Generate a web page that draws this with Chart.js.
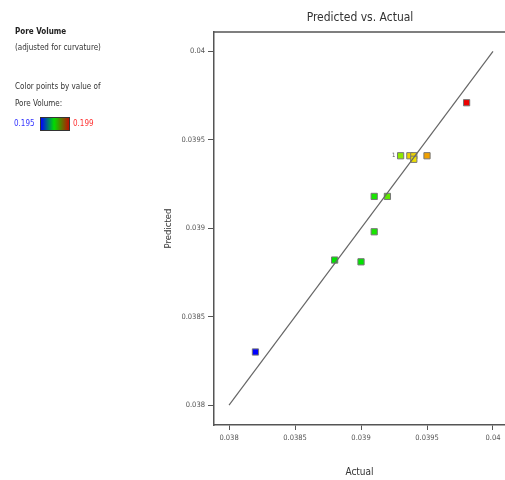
<!DOCTYPE html>
<html>
<head>
<meta charset="utf-8">
<script src="https://cdn.jsdelivr.net/npm/chart.js@4"></script>
<style>
  html, body { margin: 0; padding: 0; background: #fff; }
  #wrap { width: 505px; height: 480px; }
</style>
</head>
<body>
<div id="wrap"><canvas id="pvChart" width="505" height="480"></canvas></div>
<script>
// design points: actual vs predicted, coloured by pore volume
const actual =     [0.0382, 0.0388, 0.0390, 0.0391, 0.0391, 0.0392, 0.0393, 0.03937, 0.0394, 0.0394, 0.0395, 0.0398];
const predicted =  [0.0383, 0.03882, 0.03881, 0.03898, 0.03918, 0.03918, 0.03941, 0.03941, 0.03941, 0.03939, 0.03941, 0.03971];
const poreVolume = [0.1950, 0.1970, 0.1970, 0.1971, 0.1971, 0.1974, 0.1976, 0.1982, 0.1982, 0.1981, 0.1986, 0.1990];
const axisTicks = [0.038, 0.0385, 0.039, 0.0395, 0.04];
const refLine = [0.038, 0.04];
const colorRange = [0.195, 0.199];

const FONT = "'Liberation Sans Narrow', 'DejaVu Sans Condensed', sans-serif";

// blue -> green -> yellow -> orange -> red
const stops = [
  [0.195, [0, 0, 255]],
  [0.197, [0, 228, 0]],
  [0.198, [236, 236, 0]],
  [0.1986, [240, 160, 0]],
  [0.199, [238, 0, 0]]
];
function pvColor(v) {
  for (let i = 1; i < stops.length; i++) {
    if (v <= stops[i][0]) {
      const a = stops[i - 1], b = stops[i];
      const t = (v - a[0]) / (b[0] - a[0]);
      const c = a[1].map((ch, k) => Math.round(ch + (b[1][k] - ch) * t));
      return "rgb(" + c.join(",") + ")";
    }
  }
  return "rgb(238,0,0)";
}

const points = actual.map((a, i) => ({ x: a, y: predicted[i] }));

const extras = {
  id: "extras",
  afterDraw(chart) {
    const c = chart.ctx, ca = chart.chartArea;
    c.save();
    // top frame line
    c.strokeStyle = "#555";
    c.lineWidth = 1.5;
    c.beginPath();
    c.moveTo(ca.left, ca.top);
    c.lineTo(chart.width, ca.top);
    c.stroke();

    // chart title
    c.fillStyle = "#333";
    c.font = "12px " + FONT;
    c.textAlign = "center";
    c.textBaseline = "middle";
    c.fillText("Predicted vs. Actual", 360, 18);

    // small run-count label beside the overlapping point
    const xs = chart.scales.x, ys = chart.scales.y;
    c.font = "6px " + FONT;
    c.fillStyle = "#555";
    c.fillText("1", xs.getPixelForValue(actual[6]) - 7, ys.getPixelForValue(predicted[6]));

    // left legend
    c.textAlign = "left";
    c.fillStyle = "#222";
    c.font = "bold 8px " + FONT;
    c.fillText("Pore Volume", 15, 32);
    c.font = "8px " + FONT;
    c.fillStyle = "#333";
    c.fillText("(adjusted for curvature)", 15, 48);
    c.fillText("Color points by value of", 15, 87);
    c.fillText("Pore Volume:", 15, 104);
    c.fillStyle = "#3333ff";
    c.fillText(String(colorRange[0]), 14, 124);
    c.fillStyle = "#ff3333";
    c.fillText(String(colorRange[1]), 73, 124);
    const g = c.createLinearGradient(41, 0, 70, 0);
    g.addColorStop(0, "#0000ff");
    g.addColorStop(0.45, "#00dd00");
    g.addColorStop(1, "#cc0000");
    c.fillStyle = g;
    c.fillRect(40, 117, 30, 14);
    c.strokeStyle = "#333";
    c.lineWidth = 1;
    c.strokeRect(40.5, 117.5, 29, 13);
    c.restore();
  }
};

const tickFmt = v => parseFloat(Number(v).toFixed(4)).toString();

new Chart(document.getElementById("pvChart"), {
  type: "scatter",
  data: {
    datasets: [
      {
        type: "line",
        data: refLine.map(v => ({ x: v, y: v })),
        borderColor: "#666",
        borderWidth: 1.2,
        pointRadius: 0,
        fill: false
      },
      {
        data: points,
        pointStyle: "rect",
        pointRadius: 4.4,
        backgroundColor: poreVolume.map(pvColor),
        borderColor: "#777",
        borderWidth: 1
      }
    ]
  },
  options: {
    responsive: false,
    animation: false,
    events: [],
    layout: { autoPadding: false, padding: { left: 150, top: 32, right: 0, bottom: 0 } },
    plugins: { legend: { display: false }, tooltip: { enabled: false } },
    scales: {
      x: {
        type: "linear",
        min: 0.037886,
        max: 0.040091,
        afterFit: s => { s.height = 55; s.paddingRight = 0; },
        afterBuildTicks: s => { s.ticks = axisTicks.map(v => ({ value: v })); },
        border: { color: "#555", width: 1.5 },
        grid: { drawOnChartArea: false, drawTicks: true, tickLength: 5, color: "#555" },
        ticks: { font: { family: FONT, size: 7.5 }, color: "#555", padding: 4, callback: tickFmt, maxRotation: 0 },
        title: { display: true, text: "Actual", font: { family: FONT, size: 10 }, color: "#333", padding: { top: 0, bottom: 2 } }
      },
      y: {
        type: "linear",
        min: 0.037887,
        max: 0.04011,
        afterFit: s => { s.width = 64; },
        afterBuildTicks: s => { s.ticks = axisTicks.map(v => ({ value: v })); },
        border: { color: "#555", width: 1.5 },
        grid: { drawOnChartArea: false, drawTicks: true, tickLength: 6, color: "#555" },
        ticks: { font: { family: FONT, size: 7.5 }, color: "#555", padding: 3, callback: tickFmt },
        title: { display: true, text: "Predicted", font: { family: FONT, size: 9.5 }, color: "#333", padding: { top: 13, bottom: 0 } }
      }
    }
  },
  plugins: [extras]
});
</script>
</body>
</html>
